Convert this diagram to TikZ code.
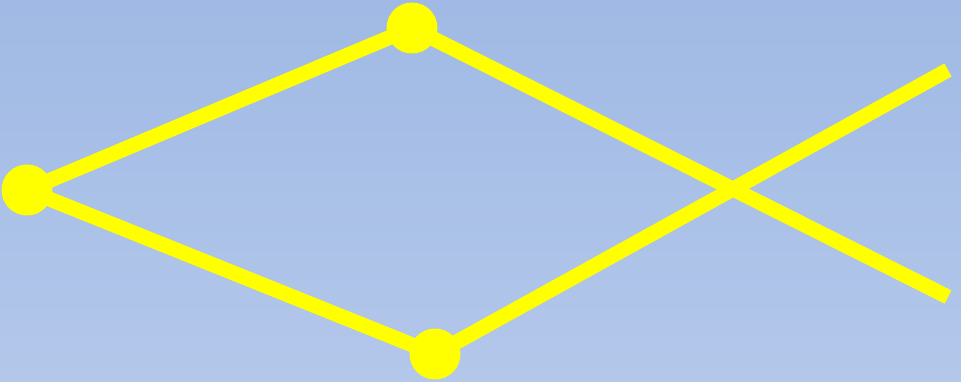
\documentclass[tikz,border=0pt]{standalone}
\usepackage{xcolor}
\usepackage{tikz}
\usetikzlibrary{backgrounds}
\definecolor{skyTop}{RGB}{160,186,229}
\definecolor{skyBottom}{RGB}{179,199,234}
\definecolor{fishYellow}{HTML}{FFFF00}

\begin{document}
\begin{tikzpicture}[
    x=0.02cm, y=-0.02cm,
    dot/.style={circle, fill=fishYellow, draw=none, minimum size=1.02cm,
                inner sep=0pt},
    bone/.style={draw=fishYellow, line width=8.5pt},
]
\useasboundingbox (0,0) rectangle (961,382);

\node[dot] (head)   at (27,190)  {};
\node[dot] (top)    at (412,28)  {};
\node[dot] (bottom) at (435,354) {};
\coordinate (tailUp)   at (948,70);
\coordinate (tailDown) at (948,297);

\begin{scope}[on background layer]
% sky
\fill[top color=skyTop, bottom color=skyBottom] (0,0) rectangle (961,382);
\draw[bone] (head.center) -- (top.center);
\draw[bone] (head.center) -- (bottom.center);
\draw[bone] (top.center) -- (tailDown);
\draw[bone] (bottom.center) -- (tailUp);
\end{scope}
\end{tikzpicture}
\end{document}
